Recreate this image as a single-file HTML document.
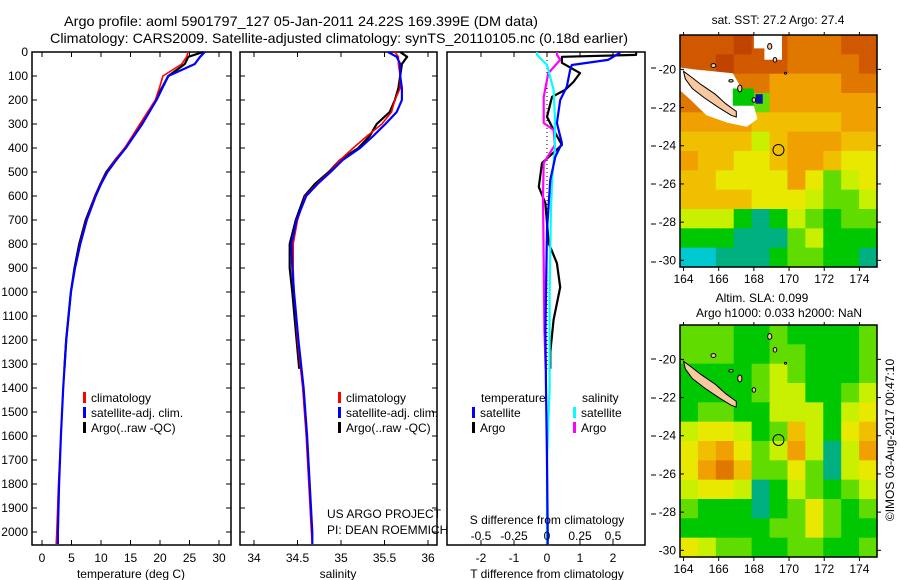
<!DOCTYPE html>
<html><head><meta charset="utf-8">
<style>
html,body{margin:0;padding:0;background:#fff;}
svg{display:block;font-family:"Liberation Sans",sans-serif;}
text{fill:#000;}
</style></head>
<body>
<svg id="fig" width="900" height="580" viewBox="0 0 900 580" xmlns="http://www.w3.org/2000/svg">
<rect width="900" height="580" fill="#fff"/>
<text x="64" y="26" font-size="14" textLength="474" lengthAdjust="spacingAndGlyphs">Argo profile: aoml 5901797_127 05-Jan-2011 24.22S 169.399E (DM data)</text>
<text x="50" y="43" font-size="14" textLength="578" lengthAdjust="spacingAndGlyphs">Climatology: CARS2009. Satellite-adjusted climatology: synTS_20110105.nc (0.18d earlier)</text>
<g id="g"></g>
</svg>
<script>
// ---------- data ----------
const depths = [0,20,50,100,150,200,250,300,350,400,450,500,550,600,700,800,900,1000,1200,1400,1600,1800,2000,2050];
const tempClim = [24.8,24.5,23.7,20.5,19.9,19.2,17.9,16.6,15.3,14.0,12.4,11.0,9.9,9.0,7.5,6.4,5.6,4.9,4.1,3.6,3.2,2.8,2.5,2.4];
const tempSat  = [27.6,26.8,25.9,21.4,20.4,19.4,18.2,17.0,15.6,14.2,12.6,11.1,10.0,9.1,7.6,6.5,5.6,4.9,4.1,3.6,3.2,2.9,2.7,2.7];
const salClim  = [35.62,35.66,35.66,35.68,35.68,35.62,35.58,35.47,35.30,35.14,34.99,34.87,34.72,34.59,34.50,34.45,34.45,34.46,34.50,34.56,34.60,34.63,34.66,34.67];
const salSat   = [35.54,35.64,35.68,35.68,35.70,35.70,35.64,35.51,35.37,35.22,35.02,34.88,34.73,34.60,34.49,34.43,34.44,34.46,34.51,34.57,34.61,34.64,34.67,34.67];
const argoDepths = [0,20,50,100,150,200,250,300,350,400,450,500,550,600,700,800,900,1000,1200,1320];
const tempArgo = [27.3,24.8,24.2,21.4,20.3,19.3,18.1,16.9,15.5,14.1,12.4,10.9,9.9,9.0,7.4,6.3,5.5,4.9,4.1,3.8];
const salArgo  = [35.68,35.76,35.70,35.68,35.66,35.62,35.56,35.41,35.33,35.20,34.99,34.86,34.70,34.58,34.48,34.41,34.41,34.44,34.49,34.52];
// differences from climatology
const dTArgoDepths = [0,12,20,45,88,125,158,187,270,325,387,463,562,630,795,880,980,1115,1250,1320];
const dTArgo = [2.7,2.7,0.45,0.45,1.0,0.8,0.55,0.15,0.0,0.2,0.45,-0.15,-0.25,-0.05,0.05,0.3,0.4,0.2,0.1,0.1];
const dTSatDepths = [0,4,33,54,75,145,200,296,380,437,533,740,1160,1400,1700,2000,2050];
const dTSat = [2.2,2.2,1.85,0.75,0.7,0.6,0.4,0.3,0.45,0.25,0.1,0.0,-0.05,-0.03,0.0,0.02,0.02];
const dSArgoDepths = [0,12,33,88,187,296,325,387,463,600,880,1160,1320];
const dSArgo = [0.076,0.076,0.1,0.01,-0.025,-0.025,0.05,0.06,-0.025,-0.03,-0.025,-0.02,-0.01];
const dSSatDepths = [0,12,54,158,270,408,520,650,1000,1400,1700,2000,2050];
const dSSat = [-0.076,-0.076,0.0,0.05,0.06,0.06,0.04,0.03,0.02,0.02,0.0,0.0,0.0];
// map grids (colour index 0..10), rows north->south (-18.2..-30.3), cols 164..175
const sstGrid = [
[9,9,9,10,9,9,8,8,8,9,9],
[9,9,10,9,9,9,8,8,8,8,9],
[8,8,8,8,8,7,7,7,7,8,8],
[8,8,8,3,3,7,7,7,7,7,7],
[7,7,7,7,6,6,6,6,6,7,7],
[6,6,6,6,4,6,7,7,7,6,6],
[7,6,6,5,5,6,7,7,6,5,5],
[6,6,5,5,5,5,7,5,3,4,5],
[6,6,6,6,5,5,5,4,3,3,4],
[4,4,4,2,1,2,4,3,2,3,3],
[2,2,2,1,1,1,3,4,2,2,2],
[0,0,1,1,1,2,3,3,2,2,1]];
const slaGrid = [
[3,3,3,2,2,3,2,2,2,2,3],
[3,3,3,2,2,3,3,2,2,2,3],
[2,2,2,2,3,4,3,2,2,2,3],
[2,2,2,2,3,4,4,2,2,3,4],
[2,3,3,2,2,4,4,4,2,4,5],
[4,5,5,4,2,3,6,4,2,5,6],
[5,6,7,5,3,4,7,4,1,4,7],
[5,7,8,6,3,3,5,3,1,4,5],
[4,5,5,4,1,2,4,3,2,3,4],
[3,2,2,2,1,2,3,5,3,2,3],
[2,2,2,2,2,3,3,5,3,2,2],
[5,4,3,3,2,2,3,3,2,2,3]];
const depthTicks = [0,100,200,300,400,500,600,700,800,900,1000,1100,1200,1300,1400,1500,1600,1700,1800,1900,2000];
const tempTicks = [0,5,10,15,20,25,30];
const salTicks = [34,34.5,35,35.5,36];
const dTTicks = [-2,-1,0,1,2];
const dSTicks = [-0.5,-0.25,0,0.25,0.5];
const latTicks = [-20,-22,-24,-26,-28,-30];
const lonTicks = [164,166,168,170,172,174];

// ---------- helpers ----------
const NS="http://www.w3.org/2000/svg";
const G=document.getElementById('g');
function mk(tag,attrs,parent){const e=document.createElementNS(NS,tag);for(const k in attrs)e.setAttribute(k,attrs[k]);(parent||G).appendChild(e);return e;}
function txt(s,x,y,size,anchor,parent){const t=mk('text',{x:x,y:y,'font-size':size,'text-anchor':anchor||'start'},parent);t.textContent=s;return t;}
const Y0=52, PY=0.24; // px per metre
const yD=d=>Y0+d*PY;
const PB=545;
const xT=v=>42+v*5.9;
const xS=v=>254+(v-34)*87;
const xDT=v=>547+v*33;
const xDS=v=>547+v*132;

function frame(x1,x2,name){
  const r=mk('rect',{x:x1,y:Y0,width:x2-x1,height:PB-Y0,fill:'none',stroke:'#000','stroke-width':1.5});
  
  
}
function line(xs,ds,fx,color,w,name){
  let p='';for(let i=0;i<xs.length;i++){p+=(i?'L':'M')+fx(xs[i]).toFixed(1)+','+yD(ds[i]).toFixed(1);}
  const e=mk('path',{d:p,fill:'none',stroke:color,'stroke-width':w,'stroke-linejoin':'round'});
  
  
}
function xticks(ticks,fx,labels){
  ticks.forEach(v=>{const x=fx(v);
    mk('line',{x1:x,x2:x,y1:Y0,y2:Y0+5,stroke:'#000'});
    mk('line',{x1:x,x2:x,y1:PB,y2:PB-5,stroke:'#000'});
    if(labels){const t=txt(String(v),x,562,12,'middle');}
  });
}
function yticks(x1,x2){depthTicks.forEach(d=>{const y=yD(d);
  mk('line',{x1:x1,x2:x1+5,y1:y,y2:y,stroke:'#000'});mk('line',{x1:x2,x2:x2-5,y1:y,y2:y,stroke:'#000'});});}

// ---------- depth labels ----------
depthTicks.forEach(d=>{const t=txt(String(d),28,yD(d)+4,12,'end');
  
  });

// ---------- panel 1: temperature ----------
frame(32,231,'temperature-panel');yticks(32,231);xticks(tempTicks,xT,true);
line(tempArgo,argoDepths,xT,'#000',2.2,'temp-argo-line');
line(tempClim,depths,xT,'#f00',1.6,'temp-climatology-line');
line(tempSat,depths,xT,'#0000ff',2.2,'temp-satellite-line');
{const t=txt('temperature (deg C)',131,578,12,'middle');}
function legend(x,y,items,base){items.forEach((it,i)=>{const yy=y+i*15;
  const b=mk('rect',{x:x,y:yy-10,width:3,height:11,fill:it[0]});
  
  const t=txt(it[1],x+8,yy,12);});}
legend(83,402,[['#f00','climatology'],['#0000ff','satellite-adj. clim.'],['#000','Argo(..raw -QC)']],'temp-legend');

// ---------- panel 2: salinity ----------
frame(240,437,'salinity-panel');yticks(240,437);xticks(salTicks,xS,true);
line(salArgo,argoDepths,xS,'#000',2.2,'sal-argo-line');
line(salClim,depths,xS,'#f00',1.6,'sal-climatology-line');
line(salSat,depths,xS,'#0000ff',2.2,'sal-satellite-line');
{const t=txt('salinity',338,578,12,'middle');}
legend(338,402,[['#f00','climatology'],['#0000ff','satellite-adj. clim.'],['#000','Argo(..raw -QC)']],'sal-legend');
{const t=txt('US ARGO PROJECT',327,518,12);
 const t2=txt('PI: DEAN ROEMMICH',327,534,12);}

// ---------- panel 3: differences ----------
frame(447,645,'difference-panel');xticks(dTTicks,xDT,true);
mk('line',{x1:547,x2:547,y1:Y0,y2:yD(1320),stroke:'#000','stroke-dasharray':'1,3'});
line(dTArgo,dTArgoDepths,xDT,'#000',2.2,'dT-argo-line');
line(dSArgo,dSArgoDepths,xDS,'#ff00ff',2.2,'dS-argo-line');
line(dSSat,dSSatDepths,xDS,'#00ffff',2.2,'dS-satellite-line');
line(dTSat,dTSatDepths,xDT,'#0000ff',2.2,'dT-satellite-line');
dSTicks.forEach(v=>{const t=txt(String(v),xDS(v),540,12,'middle');});
{const t=txt('S difference from climatology',547,524,12,'middle');
 const t2=txt('T difference from climatology',547,578,12,'middle');}
{const t=txt('temperature',481,402,12);
 const t2=txt('salinity',582,402,12);}
legend(472,417,[['#0000ff','satellite'],['#000','Argo']],'diff-legend-temp');
legend(573,417,[['#00ffff','satellite'],['#ff00ff','Argo']],'diff-legend-sal');
[68,108,146,184,224,262,359,398,436,475,514].forEach(y=>mk('line',{x1:651,x2:656,y1:y,y2:y,stroke:'#000'}));

// ---------- maps ----------
const cmap=['#00c8d0','#00b080','#00c800','#60dc00','#c8f000','#e8e800','#f0c000','#f0a000','#e07800','#d05800','#c04400'];
const MX0=680,MX1=877,LON0=163.8,LON1=175.0,LAT0=-18.2,LAT1=-30.35;
function mapPanel(top,bot,grid,name,isSST){
  const g=mk('g',{});
  
  
  const lx=v=>MX0+(v-LON0)/(LON1-LON0)*(MX1-MX0);
  const ly=v=>top+(LAT0-v)/(LAT0-LAT1)*(bot-top);
  const nr=grid.length,nc=grid[0].length,cw=(MX1-MX0)/nc,ch=(bot-top)/nr;
  grid.forEach((row,r)=>row.forEach((v,c)=>{
    const cell=mk('rect',{x:MX0+c*cw,y:top+r*ch,width:cw+0.6,height:ch+0.6,fill:cmap[v]},g);
    
    
  }));
  const poly=(pts,fill,stroke)=>mk('polygon',{points:pts.map(p=>lx(p[0]).toFixed(1)+','+ly(p[1]).toFixed(1)).join(' '),fill:fill,stroke:stroke||'none','stroke-width':1},g);
  if(isSST){
    poly([[163.8,-19.9],[164.6,-20.0],[166.8,-20.2],[167.3,-21.0],[168.0,-21.9],[168.2,-22.6],[167.6,-23.0],[166.5,-22.8],[165.3,-22.4],[164.4,-21.6],[163.8,-21.1]],'#fff');
    poly([[168.0,-18.2],[169.6,-18.2],[169.6,-19.5],[168.6,-19.5],[168.6,-18.9],[168.0,-18.9]],'#fff');
    poly([[166.8,-21.0],[168.0,-21.0],[168.0,-21.9],[166.8,-21.9]],'#00c800');
    poly([[168.1,-21.3],[168.5,-21.3],[168.5,-21.8],[168.1,-21.8]],'#0018a0');
  }
  poly([[164.0,-20.1],[164.3,-20.3],[165.0,-20.8],[165.8,-21.3],[166.4,-21.8],[167.0,-22.2],[167.0,-22.5],[166.7,-22.4],[166.0,-22.0],[165.2,-21.5],[164.5,-21.0],[164.1,-20.5]],'#f8c8a0','#000');
  [[167.2,-21.0,0.12,0.18],[168.0,-21.6,0.1,0.12],[168.9,-18.8,0.12,0.15],[169.2,-19.5,0.1,0.12],[165.7,-19.8,0.14,0.1],[166.7,-20.6,0.12,0.06],[169.8,-20.2,0.06,0.05]].forEach(p=>{
    mk('ellipse',{cx:lx(p[0]),cy:ly(p[1]),rx:p[2]*17.6,ry:p[3]*19.3,fill:'#f8c8a0',stroke:'#000','stroke-width':1},g);});
  mk('circle',{cx:lx(169.399),cy:ly(-24.22),r:5.5,fill:'none',stroke:'#000','stroke-width':1},g);
  mk('rect',{x:MX0,y:top,width:MX1-MX0,height:bot-top,fill:'none',stroke:'#000','stroke-width':1.5},g);
  latTicks.forEach(v=>{const y=ly(v);mk('line',{x1:MX0,x2:MX0+4,y1:y,y2:y,stroke:'#000'},g);mk('line',{x1:MX1,x2:MX1+4,y1:y,y2:y,stroke:'#000'},g);
    const t=txt(String(v),676,y+4,12,'end',g);});
  lonTicks.forEach(v=>{const x=lx(v);mk('line',{x1:x,x2:x,y1:bot,y2:bot+4,stroke:'#000'},g);mk('line',{x1:x,x2:x,y1:top,y2:top-3,stroke:'#000'},g);
    const t=txt(String(v),x,bot+16,12,'middle',g);});
}
mapPanel(35,267,sstGrid,'sst-map',true);
mapPanel(325,557,slaGrid,'sla-map',false);
{const t=txt('sat. SST: 27.2  Argo: 27.4',778,24,12,'middle');
 const t2=txt('Altim. SLA: 0.099',762,302,12,'middle');
 const t3=txt('Argo h1000: 0.033 h2000: NaN',779,317,12,'middle');
 const t4=txt('©IMOS 03-Aug-2017 00:47:10',0,0,12,'middle');t4.setAttribute('transform','translate(894,440) rotate(-90)');
 }
</script>
</body></html>
